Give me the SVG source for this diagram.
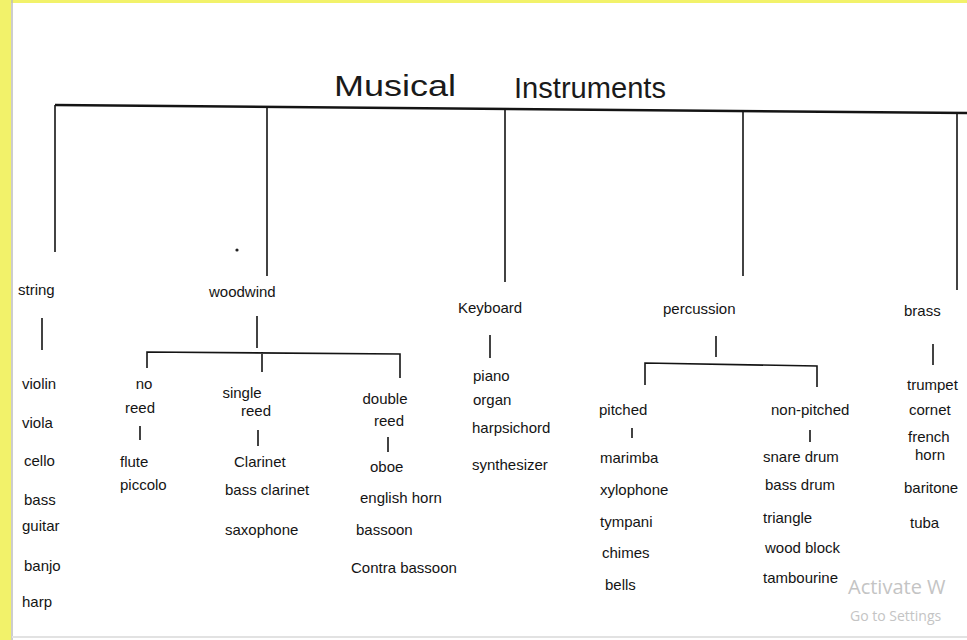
<svg xmlns="http://www.w3.org/2000/svg" width="967" height="640" viewBox="0 0 967 640">
<style>
text{font-family:"Liberation Sans",Arial,sans-serif;fill:#141414;font-size:15px}
.t{font-size:30px;fill:#1a1a1a}
.c{text-anchor:middle}
.ln{stroke:#141414;stroke-width:1.6;fill:none}
.main{stroke:#141414;stroke-width:2.6;fill:none}
.wm{fill:#c4c4c4;font-family:"Open Sans","Liberation Sans",sans-serif}
</style>
<rect x="0" y="0" width="967" height="640" fill="#ffffff"/>
<rect x="0" y="0" width="967" height="3" fill="#f2f26a"/>
<rect x="0" y="0" width="11" height="640" fill="#f2f26a"/>
<line x1="12" y1="0" x2="12" y2="640" stroke="#bdbdbd" stroke-width="1.5"/>
<line x1="12" y1="637" x2="967" y2="637" stroke="#e2e2e2" stroke-width="2"/>
<g id="title"><text class="t" x="334" y="96" textLength="122" lengthAdjust="spacingAndGlyphs">Musical</text><text class="t" x="514" y="98" textLength="152" lengthAdjust="spacingAndGlyphs">Instruments</text></g>
<g id="connectors">
<path class="main" d="M55,105 L967,113"/>
<path class="ln" d="M55,105 V252 M267,107 V276 M505,109 V282 M743,111 V276 M957,113 V290"/>
<path class="ln" d="M42,318 V350"/>
<path class="ln" d="M257,316 V348 M147,368 V352 L400,354 V378 M262,352 V372"/>
<path class="ln" d="M140,426 V440 M258,430 V446 M388,437 V452"/>
<path class="ln" d="M490,335 V358"/>
<path class="ln" d="M716,336 V357 M645,385 V363 L817,366 V387"/>
<path class="ln" d="M632,428 V438 M810,430 V442"/>
<path class="ln" d="M933,344 V365"/>
</g>
<g id="string"><text x="18" y="295">string</text></g>
<g id="string-items"><text x="22" y="389">violin</text><text x="22" y="428">viola</text><text x="24" y="466">cello</text><text x="24" y="505">bass</text><text x="22" y="531">guitar</text><text x="24" y="571">banjo</text><text x="22" y="607">harp</text></g>
<g id="woodwind"><text x="209" y="297">woodwind</text></g>
<g id="no-reed"><text class="c" x="144" y="389">no</text><text class="c" x="140" y="413">reed</text></g>
<g id="no-reed-items"><text x="120" y="467">flute</text><text x="120" y="490">piccolo</text></g>
<g id="single-reed"><text class="c" x="242" y="398">single</text><text class="c" x="256" y="416">reed</text></g>
<g id="single-reed-items"><text x="234" y="467">Clarinet</text><text x="225" y="495">bass clarinet</text><text x="225" y="535">saxophone</text></g>
<g id="double-reed"><text class="c" x="385" y="404">double</text><text class="c" x="389" y="426">reed</text></g>
<g id="double-reed-items"><text x="370" y="472">oboe</text><text x="360" y="503">english horn</text><text x="356" y="535">bassoon</text><text x="351" y="573">Contra bassoon</text></g>
<g id="keyboard"><text x="458" y="313">Keyboard</text></g>
<g id="keyboard-items"><text x="473" y="381">piano</text><text x="473" y="405">organ</text><text x="472" y="433">harpsichord</text><text x="472" y="470">synthesizer</text></g>
<g id="percussion"><text x="663" y="314">percussion</text></g>
<g id="pitched"><text x="599" y="415">pitched</text></g>
<g id="pitched-items"><text x="600" y="463">marimba</text><text x="600" y="495">xylophone</text><text x="600" y="527">tympani</text><text x="602" y="558">chimes</text><text x="605" y="590">bells</text></g>
<g id="non-pitched"><text x="771" y="415">non-pitched</text></g>
<g id="non-pitched-items"><text x="763" y="462">snare drum</text><text x="765" y="490">bass drum</text><text x="763" y="523">triangle</text><text x="765" y="553">wood block</text><text x="763" y="583">tambourine</text></g>
<g id="brass"><text x="904" y="316">brass</text></g>
<g id="brass-items"><text x="907" y="390">trumpet</text><text x="909" y="415">cornet</text><text x="908" y="442">french</text><text x="915" y="460">horn</text><text x="904" y="493">baritone</text><text x="910" y="528">tuba</text></g>
<g id="watermark"><text class="wm" x="848" y="594" style="font-size:20px">Activate W</text><text class="wm" x="850" y="621" style="font-size:14px">Go to Settings</text></g>
<circle cx="237" cy="250" r="1.6" fill="#222"/>
</svg>
